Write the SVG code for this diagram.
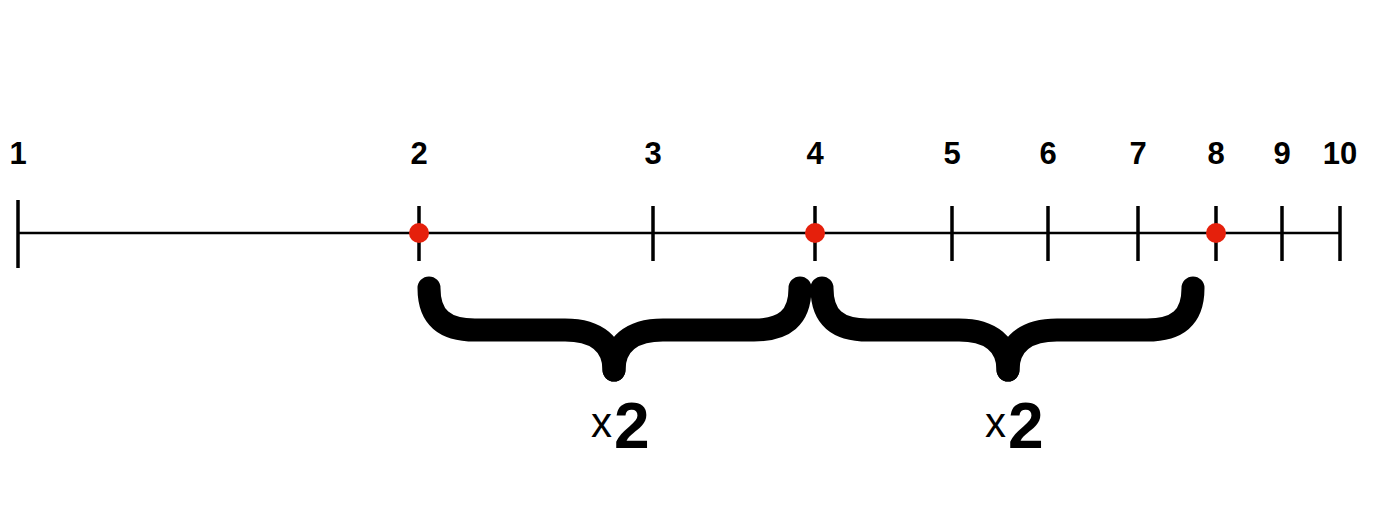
<svg xmlns="http://www.w3.org/2000/svg" width="1400" height="514" viewBox="0 0 1400 514">
<style>
.num{font-family:"Liberation Sans",Arial,sans-serif;font-weight:bold;font-size:31px;text-anchor:middle;fill:#000}
.tick{stroke:#000;stroke-width:3.5}
.axis{stroke:#000;stroke-width:2.5}
.dot{fill:#e5200c}
.brace{fill:none;stroke:#000;stroke-width:23;stroke-linecap:round;stroke-linejoin:round}
.x{font-family:"Liberation Sans",Arial,sans-serif;font-size:42px;fill:#000}
.two{font-family:"Liberation Sans",Arial,sans-serif;font-weight:bold;font-size:64px;fill:#000}
</style>
<rect width="1400" height="514" fill="#fff"/>
<g id="axis">
<line class="axis" x1="18" y1="233" x2="1340" y2="233"/>
</g>
<g id="tick-1"><line class="tick" x1="18" y1="200" x2="18" y2="268"/><text class="num" x="18" y="164">1</text></g>
<g id="tick-2"><line class="tick" x1="419" y1="206" x2="419" y2="261"/><text class="num" x="419" y="164">2</text></g>
<g id="tick-3"><line class="tick" x1="653" y1="206" x2="653" y2="261"/><text class="num" x="653" y="164">3</text></g>
<g id="tick-4"><line class="tick" x1="815" y1="206" x2="815" y2="261"/><text class="num" x="815" y="164">4</text></g>
<g id="tick-5"><line class="tick" x1="952" y1="206" x2="952" y2="261"/><text class="num" x="952" y="164">5</text></g>
<g id="tick-6"><line class="tick" x1="1048" y1="206" x2="1048" y2="261"/><text class="num" x="1048" y="164">6</text></g>
<g id="tick-7"><line class="tick" x1="1138" y1="206" x2="1138" y2="261"/><text class="num" x="1138" y="164">7</text></g>
<g id="tick-8"><line class="tick" x1="1216" y1="206" x2="1216" y2="261"/><text class="num" x="1216" y="164">8</text></g>
<g id="tick-9"><line class="tick" x1="1282" y1="206" x2="1282" y2="261"/><text class="num" x="1282" y="164">9</text></g>
<g id="tick-10"><line class="tick" x1="1340" y1="206" x2="1340" y2="261"/><text class="num" x="1340" y="164">10</text></g>
<g id="dots">
<circle class="dot" cx="419" cy="233" r="10"/>
<circle class="dot" cx="815" cy="233" r="10"/>
<circle class="dot" cx="1216" cy="233" r="10"/>
</g>
<g id="brace-1">
<path class="brace" d="M429,288 C429,318 445,330 475,330 L565,330 C597,330 614,345 614,370"/>
<path class="brace" d="M800,288 C800,318 784,330 754,330 L663,330 C631,330 614,345 614,370"/>
<text class="x" x="591" y="437">x</text><text class="two" x="614" y="448">2</text>
</g>
<g id="brace-2">
<path class="brace" d="M822,288 C822,318 838,330 868,330 L959,330 C991,330 1008,345 1008,370"/>
<path class="brace" d="M1193,288 C1193,318 1177,330 1147,330 L1057,330 C1025,330 1008,345 1008,370"/>
<text class="x" x="985" y="437">x</text><text class="two" x="1008" y="448">2</text>
</g>
</svg>
